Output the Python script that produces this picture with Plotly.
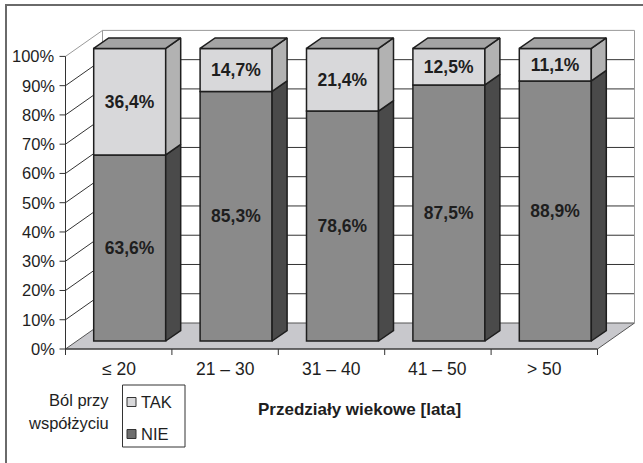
import plotly.graph_objects as go

# ---- data ----
categories = ["≤ 20", "21 – 30", "31 – 40", "41 – 50", "> 50"]
nie_pct = [63.6, 85.3, 78.6, 87.5, 88.9]
tak_pct = [36.4, 14.7, 21.4, 12.5, 11.1]
y_ticks = [0, 10, 20, 30, 40, 50, 60, 70, 80, 90, 100]
series_names = ["TAK", "NIE"]
legend_title = ["Ból przy", "współżyciu"]
x_title = "Przedziały wiekowe [lata]"

# ---- geometry of the pseudo-3D projection (pixels) ----
W, H = 643, 463
ORIGIN_X, ORIGIN_Y = 65.5, 349.0      # front-plane origin of the value axis
CAT_PX = 106.4                         # width of one category on the front plane
PCT_PX = 2.926                         # pixels per percentage point
WALL_D = (37, 26)                      # depth of the floor / back wall
BAR_FRONT = (11, 8)                    # offset of the bar front faces
BAR_D = (15, 10.5)                     # depth of each column
BAR_W = 72

FONT = "Arial, Liberation Sans, sans-serif"
INK = "#1e1e1e"


def x_at(px):
    return (px - ORIGIN_X) / CAT_PX - 0.5


def y_at(py):
    return (ORIGIN_Y - py) / PCT_PX


def ddx(px):
    return px / CAT_PX


def ddy(px):
    return px / PCT_PX


def paper(px, py):
    return px / W, 1 - py / H


n = len(categories)
left, right = -0.5, n - 0.5
WX, WY = ddx(WALL_D[0]), ddy(WALL_D[1])
FX, FY = ddx(BAR_FRONT[0]), ddy(BAR_FRONT[1])
BX, BY = ddx(BAR_D[0]), ddy(BAR_D[1])
BW = ddx(BAR_W)

shapes = []


def seg(x0, y0, x1, y1, color, width=1, ref="x"):
    shapes.append(dict(type="line", xref=ref, yref=ref.replace("x", "y"),
                       x0=x0, y0=y0, x1=x1, y1=y1, layer="below",
                       line=dict(color=color, width=width)))


# floor
shapes.append(dict(
    type="path", xref="x", yref="y", layer="below",
    path=f"M{left},0 L{right},0 L{right + WX},{WY} L{left + WX},{WY} Z",
    fillcolor="#c8c8cc", line=dict(color="#555555", width=1)))

# back wall and side wall grid
for p in y_ticks[1:-1]:
    seg(left + WX, p + WY, right + WX, p + WY, "#333333")
    seg(left, p, left + WX, p + WY, "#333333")
top = y_ticks[-1]
seg(left + WX, top + WY, right + WX, top + WY, "#9a9a9a")
seg(left, top, left + WX, top + WY, "#9a9a9a")
seg(right + WX, WY, right + WX, top + WY, "#9a9a9a")
seg(left + WX, WY, left + WX, top + WY, "#9a9a9a")

# front axes and ticks
seg(left, 0, left, top, "#333333")
seg(left, 0, right, 0, "#333333")
for p in y_ticks:
    seg(left - ddx(6), p, left, p, "#333333")
for k in range(n + 1):
    seg(left + k, 0, left + k, -ddy(6), "#333333")

fig = go.Figure()

# front faces of the stacked columns
xs = [i + FX for i in range(n)]
fmt = lambda v: f"{v:.1f}%".replace(".", ",")
label_font = dict(family=FONT, size=17.5, color=INK, weight="bold")
fig.add_trace(go.Bar(
    name=series_names[1], x=xs, y=nie_pct, base=[FY] * n, width=BW,
    marker=dict(color="#8a8a8a", line=dict(color=INK, width=1.5)),
    text=[fmt(v) for v in nie_pct], textposition="inside",
    insidetextanchor="middle", textangle=0, textfont=label_font,
    showlegend=False, hoverinfo="skip"))
fig.add_trace(go.Bar(
    name=series_names[0], x=xs, y=tak_pct, base=[FY + v for v in nie_pct], width=BW,
    marker=dict(color="#d8d8da", line=dict(color=INK, width=1.5)),
    text=[fmt(v) for v in tak_pct], textposition="inside",
    insidetextanchor="middle", textangle=0, textfont=label_font,
    showlegend=False, hoverinfo="skip"))


def face(xp, yp, color):
    fig.add_trace(go.Scatter(
        x=xp + [xp[0]], y=yp + [yp[0]], mode="lines", fill="toself",
        fillcolor=color, line=dict(color=INK, width=1.5),
        showlegend=False, hoverinfo="skip"))


# side and top faces
for i in range(n):
    xl = xs[i] - BW / 2
    xr = xs[i] + BW / 2
    b0 = FY
    b1 = FY + nie_pct[i]
    b2 = b1 + tak_pct[i]
    face([xr, xr + BX, xr + BX, xr], [b0, b0 + BY, b1 + BY, b1], "#4a4a4a")
    face([xr, xr + BX, xr + BX, xr], [b1, b1 + BY, b2 + BY, b2], "#b2b2b2")
    face([xl, xr, xr + BX, xl + BX], [b2, b2, b2 + BY, b2 + BY], "#a4a4a4")

annotations = []
# value axis labels
for p in y_ticks:
    annotations.append(dict(
        x=left - ddx(9), y=p, xref="x", yref="y", text=f"{p}%", showarrow=False,
        xanchor="right", yanchor="middle",
        font=dict(family=FONT, size=16.5, color=INK)))
# category labels
for i, c in enumerate(categories):
    annotations.append(dict(
        x=i, y=y_at(369), xref="x", yref="y", text=c, showarrow=False,
        xanchor="center", yanchor="middle",
        font=dict(family=FONT, size=17.5, color=INK)))

# axis title
tx, ty = paper(359, 409)
annotations.append(dict(
    x=tx, y=ty, xref="paper", yref="paper", text=x_title, showarrow=False,
    xanchor="center", yanchor="middle",
    font=dict(family=FONT, size=17, color=INK, weight="bold")))

# legend title
for line, py in zip(legend_title, [400, 423]):
    lx, ly = paper(111, py)
    annotations.append(dict(
        x=lx, y=ly, xref="paper", yref="paper", text=line, showarrow=False,
        xanchor="right", yanchor="middle",
        font=dict(family=FONT, size=16.5, color=INK)))

# legend box with swatches
bx0, by0 = paper(122.5, 385)
bx1, by1 = paper(185, 447)
shapes.append(dict(type="rect", xref="paper", yref="paper", x0=bx0, y0=by1, x1=bx1, y1=by0,
                   line=dict(color="#333333", width=1), fillcolor="white"))
for name, color, py in zip(series_names, ["#d8d8da", "#6e6e6e"], [402, 434]):
    sx0, sy0 = paper(127, py - 4.5)
    sx1, sy1 = paper(136, py + 4.5)
    shapes.append(dict(type="rect", xref="paper", yref="paper", x0=sx0, y0=sy1, x1=sx1, y1=sy0,
                       line=dict(color="#333333", width=1), fillcolor=color))
    tx, ty = paper(139, py)
    annotations.append(dict(
        x=tx, y=ty, xref="paper", yref="paper", text=name, showarrow=False,
        xanchor="left", yanchor="middle",
        font=dict(family=FONT, size=16.5, color=INK)))

# outer frame (only its left and top edges fall inside the page)
fx0, fy0 = paper(6, 5)
fx1, fy1 = paper(W + 40, H + 40)
shapes.append(dict(type="rect", xref="paper", yref="paper", x0=fx0, y0=fy1, x1=fx1, y1=fy0,
                   line=dict(color="#6a6a6a", width=2)))

fig.update_layout(
    width=W, height=H,
    margin=dict(l=0, r=0, t=0, b=0),
    paper_bgcolor="white", plot_bgcolor="white",
    barmode="overlay", showlegend=False,
    xaxis=dict(range=[x_at(0), x_at(W)], visible=False, fixedrange=True),
    yaxis=dict(range=[y_at(H), y_at(0)], visible=False, fixedrange=True),
    shapes=shapes, annotations=annotations,
)

fig.write_html("out.html")
